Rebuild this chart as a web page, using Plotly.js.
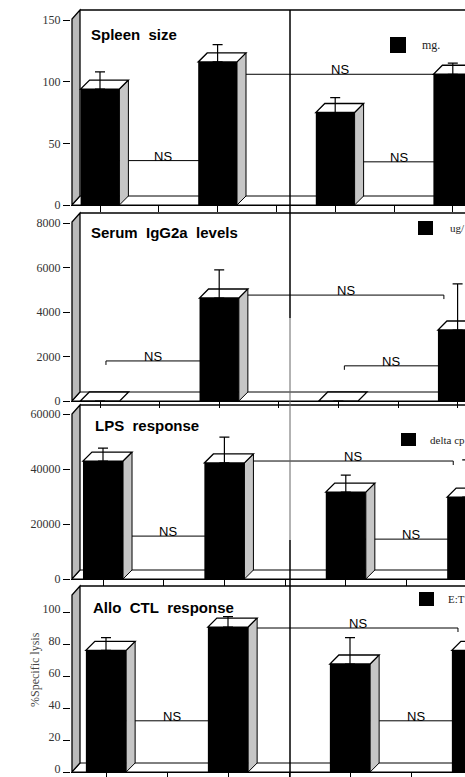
<!DOCTYPE html>
<html><head><meta charset="utf-8">
<script src="https://cdn.plot.ly/plotly-3.0.1.min.js"></script>
<style>html,body{margin:0;padding:0;overflow:hidden;background:#fff}#chart{width:465px;height:777px}</style>
</head><body><div id="chart"></div>
<script>
// ---------------- data ----------------
const groups = ['Group 1', 'Group 2', 'Group 3', 'Group 4'];
const panelTitles = ['Spleen\u00A0 size', 'Serum\u00A0 IgG2a\u00A0 levels', 'LPS\u00A0 response', 'Allo\u00A0 CTL\u00A0 response'];
const unitLabels = ['mg.', 'ug/', 'delta cp', 'E:T'];
const yAxisTitle4 = '%Specific lysis';

const spleenSize = [94, 116, 75, 106];
const spleenSizeErr = [14, 14, 12, 9];
const serumIgG2a = [0, 4630, 0, 3190];
const serumIgG2aErr = [null, 1260, null, 2070];
const lpsResponse = [42900, 42200, 31600, 29800];
const lpsResponseErr = [4700, 9400, 6200, 13500];
const ctlResponse = [76, 90.6, 67.5, 76];
const ctlResponseErr = [8, 6.5, 16.5, 8];

const yTicks1 = [0, 50, 100, 150];
const yTicks2 = [0, 2000, 4000, 6000, 8000];
const yTicks3 = [0, 20000, 40000, 60000];
const yTicks4 = [0, 20, 40, 60, 80, 100];

// NS comparisons: [fromGroup, toGroup, level, end with drop tick]
const nsSpleen = [[0, 1, 36, ''], [1, 3, 106, ''], [2, 3, 35, '']];
const nsIgG2a = [[0, 1, 1800, 'from'], [1, 3, 4760, 'to'], [2, 3, 1580, 'from']];
const nsLps = [[0, 1, 15600, ''], [1, 3, 42900, 'to'], [2, 3, 14500, '']];
const nsCtl = [[0, 1, 32, ''], [1, 3, 90, 'to'], [2, 3, 32, '']];

// ---------------- layout geometry (styling) ----------------
const W = 465, H = 777;
const panels = [
  {vals: spleenSize, err: spleenSizeErr, ticks: yTicks1, ns: nsSpleen, c0: 100, s: 58.8, zeroY: 205, topTickY: 20, frameTop: 10,
   title: [89, 34.5], sq: [390, 37, 406, 53], unit: [420, 45], unitSize: 12, labShift: 0},
  {vals: serumIgG2a, err: serumIgG2aErr, ticks: yTicks2, ns: nsIgG2a, c0: 100, s: 59.6, zeroY: 401, topTickY: 223, frameTop: 213,
   title: [89, 233], sq: [418, 221, 433, 235], unit: [448, 228], unitSize: 11, labShift: 0},
  {vals: lpsResponse, err: lpsResponseErr, ticks: yTicks3, ns: nsLps, c0: 103, s: 60.7, zeroY: 579, topTickY: 414, frameTop: 405,
   title: [93, 425], sq: [401, 433, 416, 446], unit: [428, 440], unitSize: 11, labShift: 0},
  {vals: ctlResponse, err: ctlResponseErr, ticks: yTicks4, ns: nsCtl, c0: 106, s: 61, zeroY: 772, topTickY: 612, frameTop: 586,
   title: [91, 607], sq: [419, 592, 434, 606], unit: [446, 599], unitSize: 11, labShift: -3}
];
const plotLeft = 71, wallPx = 72, depthPx = 9, wallDepthPx = 8, barW = 0.66;
const slots = groups.map((g, i) => i * 2);
const tickSlots = [0, 1, 2, 3, 4, 5, 6];
const sideGray = '#c6c6c6', wallGray = '#bababa';

const traces = [], shapes = [], annotations = [];
const layout = {
  width: W, height: H, margin: {l: 0, r: 0, t: 0, b: 0},
  paper_bgcolor: '#fff', plot_bgcolor: 'rgba(0,0,0,0)',
  showlegend: false, hovermode: false,
  font: {family: 'Liberation Sans', color: '#000'}
};
const px = v => v / W, py = v => 1 - v / H;

panels.forEach((p, k) => {
  const n = k + 1, xa = 'x' + n, ya = 'y' + n;
  const topVal = p.ticks[p.ticks.length - 1];
  const ppu = (p.zeroY - p.topTickY) / topVal;
  const frameVal = (p.zeroY - p.frameTop) / ppu;
  const rangeTop = (p.zeroY - p.frameTop + 1.5) / ppu;
  const dy = depthPx / ppu, dx = depthPx / p.s, dxw = wallDepthPx / p.s;
  const xmin = (plotLeft - p.c0) / p.s, xmax = (W - p.c0) / p.s;
  const wallX = (wallPx - p.c0) / p.s;
  const dom = [(H - p.zeroY) / H, (H - p.frameTop + 1.5) / H];

  layout['xaxis' + n] = {anchor: ya, domain: [plotLeft / W, 1], range: [xmin, xmax], tickvals: tickSlots,
    ticks: 'outside', ticklen: 6, tickcolor: '#000', tickwidth: 1, showticklabels: false,
    showline: true, linecolor: '#000', linewidth: 1, showgrid: false, zeroline: false, fixedrange: true};
  layout['yaxis' + n] = {anchor: xa, domain: dom, range: [0, rangeTop], tickvals: p.ticks,
    ticktext: p.ticks.map(String), ticks: 'outside', ticklen: 7, tickcolor: '#000', tickwidth: 1,
    ticklabeloverflow: 'allow', ticklabelshift: p.labShift,
    tickfont: {family: 'Liberation Serif', size: 12, color: '#333'},
    showline: false, showgrid: false, zeroline: false, fixedrange: true};

  const base = {xref: xa, yref: ya, layer: 'below'};
  // floor
  shapes.push(Object.assign({}, base, {type: 'path',
    path: `M${wallX},0 L${xmax + 1},0 L${xmax + 1},${dy} L${wallX + dxw},${dy} Z`,
    fillcolor: '#fff', line: {color: '#000', width: 1}}));
  // left wall
  shapes.push(Object.assign({}, base, {type: 'path',
    path: `M${wallX},0 L${wallX},${frameVal - dy} L${wallX + dxw},${frameVal} L${wallX + dxw},${dy} Z`,
    fillcolor: wallGray, line: {color: '#000', width: 1.3}}));
  // back wall top edge
  shapes.push(Object.assign({}, base, {type: 'line', x0: wallX + dxw, x1: xmax + 1, y0: frameVal, y1: frameVal,
    line: {color: '#000', width: 1.5}}));

  // NS brackets
  const tickLen = 4 / ppu;
  p.ns.forEach(([a, b, lev, tk]) => {
    const xa0 = tk === 'from' ? slots[a] + 0.1 : slots[a];
    const xb0 = tk === 'to' ? slots[b] - 0.23 : slots[b];
    shapes.push(Object.assign({}, base, {type: 'line', x0: xa0, x1: xb0, y0: lev, y1: lev, line: {color: '#000', width: 1}}));
    if (tk === 'from') shapes.push(Object.assign({}, base, {type: 'line', x0: xa0, x1: xa0, y0: lev, y1: lev - tickLen, line: {color: '#000', width: 1}}));
    if (tk === 'to') shapes.push(Object.assign({}, base, {type: 'line', x0: xb0, x1: xb0, y0: lev, y1: lev - tickLen, line: {color: '#000', width: 1}}));
    const visA = tk === 'from' ? xa0 : slots[a] + barW / 2 + dx;
    const visB = tk === 'to' ? xb0 : slots[b] - barW / 2;
    annotations.push({xref: xa, yref: ya, x: (visA + visB) / 2, y: lev, text: 'NS', showarrow: false,
      xanchor: 'center', yanchor: 'bottom', yshift: -5, font: {family: 'Liberation Sans', size: 13, color: '#000'}});
  });

  // 3D sides and tops of bars
  p.vals.forEach((v, i) => {
    const x = slots[i], r = x + barW / 2, l = x - barW / 2;
    if (v > 0) {
      shapes.push(Object.assign({}, base, {type: 'path',
        path: `M${r},0 L${r},${v} L${r + dx},${v + dy} L${r + dx},${dy} Z`,
        fillcolor: sideGray, line: {color: '#000', width: 1}}));
    }
    shapes.push(Object.assign({}, base, {type: 'path',
      path: `M${l},${v} L${r},${v} L${r + dx},${v + dy} L${l + dx},${v + dy} Z`,
      fillcolor: '#fff', line: {color: '#000', width: 1.3}}));
  });

  // front faces of bars
  traces.push({type: 'bar', x: slots, y: p.vals, xaxis: xa, yaxis: ya, width: barW, name: unitLabels[k],
    text: groups, textposition: 'none',
    marker: {color: '#000', line: {width: 0}},
    error_y: {type: 'data', symmetric: false, array: p.err, arrayminus: p.err.map(() => 0),
      color: '#000', thickness: 1.2, width: 5}});

  // panel title
  annotations.push({xref: 'paper', yref: 'paper', x: px(p.title[0]), y: py(p.title[1]), text: '<b>' + panelTitles[k] + '</b>',
    showarrow: false, xanchor: 'left', yanchor: 'middle', font: {family: 'Liberation Sans', size: 15, color: '#000'}});
  // unit legend
  shapes.push({type: 'rect', xref: 'paper', yref: 'paper', x0: px(p.sq[0]), x1: px(p.sq[2]), y0: py(p.sq[1]), y1: py(p.sq[3]),
    fillcolor: '#000', line: {width: 0}, layer: 'above'});
  annotations.push({xref: 'paper', yref: 'paper', x: px(p.unit[0]), y: py(p.unit[1]), text: unitLabels[k],
    showarrow: false, xanchor: 'left', yanchor: 'middle', font: {family: 'Liberation Serif', size: p.unitSize, color: '#222'}});
});

// y title of the last panel
annotations.push({xref: 'paper', yref: 'paper', x: px(35), y: py(670), text: yAxisTitle4, textangle: -90,
  showarrow: false, xanchor: 'center', yanchor: 'middle', font: {family: 'Liberation Serif', size: 12, color: '#444'}});

// vertical divider between the two halves
const divX = px(290);
shapes.push({type: 'line', xref: 'paper', yref: 'paper', x0: divX, x1: divX, y0: py(10), y1: py(318), line: {color: '#000', width: 1.5}, layer: 'above'});
shapes.push({type: 'line', xref: 'paper', yref: 'paper', x0: divX, x1: divX, y0: py(318), y1: py(540), line: {color: '#666', width: 1}, layer: 'above'});
shapes.push({type: 'line', xref: 'paper', yref: 'paper', x0: divX, x1: divX, y0: py(540), y1: py(777), line: {color: '#000', width: 1.5}, layer: 'above'});

layout.shapes = shapes;
layout.annotations = annotations;
Plotly.newPlot('chart', traces, layout, {staticPlot: true, displayModeBar: false});
</script>
</body></html>
